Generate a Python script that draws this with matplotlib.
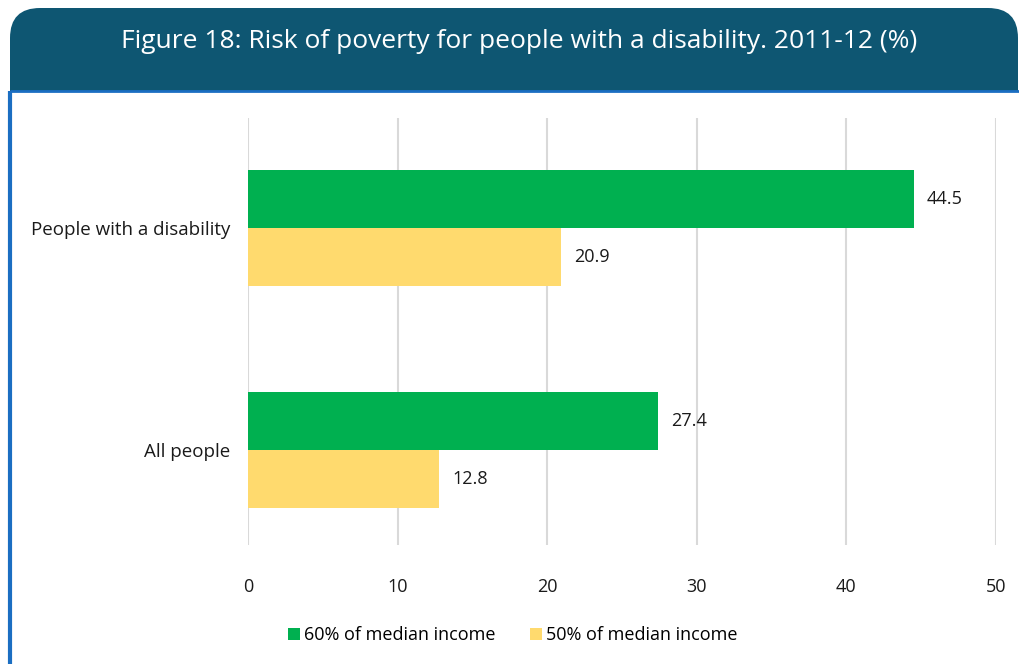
import matplotlib.pyplot as plt
from matplotlib.patches import FancyBboxPatch, Rectangle
import numpy as np

# data
categories = ["All people", "People with a disability"]
income_60 = [27.4, 44.5]
income_50 = [12.8, 20.9]
series_names = ["60% of median income", "50% of median income"]
x_ticks = [0, 10, 20, 30, 40, 50]

green = "#00B050"
yellow = "#FFDA6E"
banner = "#0E5672"
border = "#1B6EC2"

plt.rcParams["font.family"] = ["Open Sans", "DejaVu Sans"]

fig = plt.figure(figsize=(10.19, 6.64), dpi=100)

# background: title banner and framed panel, in pixel units
bg = fig.add_axes([0, 0, 1, 1], zorder=-1)
bg.set_xlim(0, 1019)
bg.set_ylim(664, 0)
bg.axis("off")
bg.add_patch(FancyBboxPatch((10, 8), 1008, 140, boxstyle="round,pad=0,rounding_size=30",
                            facecolor=banner, edgecolor="none"))
bg.add_patch(Rectangle((10, 91), 1009, 580, facecolor="white", edgecolor="none"))
bg.plot([10, 1019], [91, 91], color=border, lw=2, solid_capstyle="butt")
bg.plot([10.5, 10.5], [91, 664], color=border, lw=3, solid_capstyle="butt")
bg.text(519, 41, "Figure 18: Risk of poverty for people with a disability. 2011-12 (%)",
        color="white", fontsize=19, ha="center", va="center")

# bar chart
ax = fig.add_axes([248 / 1019, 1 - 545 / 664, (996 - 248) / 1019, (545 - 118) / 664])
y = np.arange(len(categories))
h = 0.261
b1 = ax.barh(y + h / 2, income_60, height=h, color=green, label=series_names[0], zorder=3)
b2 = ax.barh(y - h / 2, income_50, height=h, color=yellow, label=series_names[1], zorder=3)

for bars in (b1, b2):
    for rect in bars:
        v = rect.get_width()
        ax.annotate(f"{v:.1f}", (v, rect.get_y() + rect.get_height() / 2),
                    xytext=(9.5, 0), textcoords="offset points",
                    ha="left", va="center", fontsize=13, color="#1a1a1a")

ax.set_xlim(0, 50)
ax.set_ylim(-0.428, 1.495)
ax.set_xticks(x_ticks)
ax.set_yticks(y)
ax.set_yticklabels(categories)
ax.xaxis.grid(True, color="#D9D9D9", lw=1.5, zorder=0)
ax.set_axisbelow(True)
for s in ax.spines.values():
    s.set_visible(False)
ax.tick_params(axis="both", length=0, labelsize=13.5, colors="#1a1a1a")
ax.tick_params(axis="x", labelsize=13, pad=24)
ax.tick_params(axis="y", pad=13)

fig.legend(handles=[b1, b2], loc="center", bbox_to_anchor=(513 / 1019, 1 - 635 / 664), ncol=2,
           frameon=False, fontsize=13, handlelength=0.65, handleheight=0.65,
           handletextpad=0.25, columnspacing=1.9)

fig.savefig("out.png", dpi=100)
